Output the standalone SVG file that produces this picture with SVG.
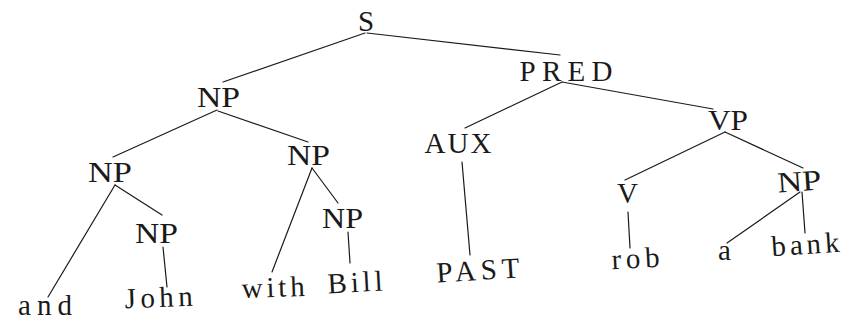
<svg xmlns="http://www.w3.org/2000/svg" width="850" height="326" viewBox="0 0 850 326">
<style>
  text { font-family: "Liberation Serif", "Times New Roman", serif; font-size: 29px; fill: #1a1a1a; text-anchor: middle; }
  .edge { stroke: #1a1a1a; stroke-width: 1.2; fill: none; stroke-linecap: round; }
</style>
<rect width="850" height="326" fill="#fff"/>
<g id="connectors">
  <line class="edge" x1="365" y1="33" x2="223" y2="82"/>
  <line class="edge" x1="367" y1="33" x2="560" y2="55"/>
  <line class="edge" x1="217" y1="110" x2="113" y2="157"/>
  <line class="edge" x1="218" y1="111" x2="308" y2="142"/>
  <line class="edge" x1="562" y1="82" x2="465" y2="128"/>
  <line class="edge" x1="562" y1="82" x2="713" y2="109"/>
  <line class="edge" x1="115" y1="185" x2="48" y2="297"/>
  <line class="edge" x1="115" y1="185" x2="162" y2="215"/>
  <line class="edge" x1="163" y1="247" x2="167" y2="287"/>
  <line class="edge" x1="312" y1="168" x2="272" y2="272"/>
  <line class="edge" x1="312" y1="168" x2="338" y2="203"/>
  <line class="edge" x1="348" y1="232" x2="350" y2="263"/>
  <line class="edge" x1="462" y1="162" x2="470" y2="255"/>
  <line class="edge" x1="725" y1="132" x2="625" y2="180"/>
  <line class="edge" x1="725" y1="132" x2="803" y2="168"/>
  <line class="edge" x1="628" y1="212" x2="630" y2="248"/>
  <line class="edge" x1="800" y1="192" x2="727" y2="243"/>
  <line class="edge" x1="802" y1="192" x2="805" y2="233"/>
</g>
<g id="n-S"><text x="366" y="31">S</text></g>
<g id="n-NP1"><text x="218.5" y="107" textLength="43" lengthAdjust="spacingAndGlyphs">NP</text></g>
<g id="n-PRED"><text x="566" y="81" textLength="93" lengthAdjust="spacing">PRED</text></g>
<g id="n-NP2"><text x="110" y="182" textLength="44" lengthAdjust="spacingAndGlyphs">NP</text></g>
<g id="n-NP3"><text x="308.5" y="165" textLength="43" lengthAdjust="spacingAndGlyphs">NP</text></g>
<g id="n-AUX"><text x="458" y="153" textLength="67" lengthAdjust="spacing">AUX</text></g>
<g id="n-VP"><text x="728" y="130" textLength="40" lengthAdjust="spacingAndGlyphs">VP</text></g>
<g id="n-NP4"><text x="156.5" y="243" textLength="43" lengthAdjust="spacingAndGlyphs">NP</text></g>
<g id="n-NP5"><text x="342.5" y="228" textLength="41" lengthAdjust="spacingAndGlyphs">NP</text></g>
<g id="n-V"><text x="627.5" y="203">V</text></g>
<g id="n-NP6"><text x="800" y="191" textLength="44" lengthAdjust="spacingAndGlyphs" transform="rotate(-4 800 191)">NP</text></g>
<g id="n-and"><text x="45" y="315" textLength="54" lengthAdjust="spacing">and</text></g>
<g id="n-John"><text x="159" y="307" textLength="68" lengthAdjust="spacing" transform="rotate(-2 159 307)">John</text></g>
<g id="n-with"><text x="273.5" y="297" textLength="63" lengthAdjust="spacing" transform="rotate(-2 273.5 297)">with</text></g>
<g id="n-Bill"><text x="355.5" y="292" textLength="55" lengthAdjust="spacing" transform="rotate(-3 355.5 292)">Bill</text></g>
<g id="n-PAST"><text x="478.5" y="280" textLength="83" lengthAdjust="spacing" transform="rotate(-3.5 478.5 280)">PAST</text></g>
<g id="n-rob"><text x="636" y="268" textLength="48" lengthAdjust="spacing" transform="rotate(-3 636 268)">rob</text></g>
<g id="n-a"><text x="724.5" y="260">a</text></g>
<g id="n-bank"><text x="806" y="254" textLength="68" lengthAdjust="spacing" transform="rotate(-4 806 254)">bank</text></g>
</svg>
